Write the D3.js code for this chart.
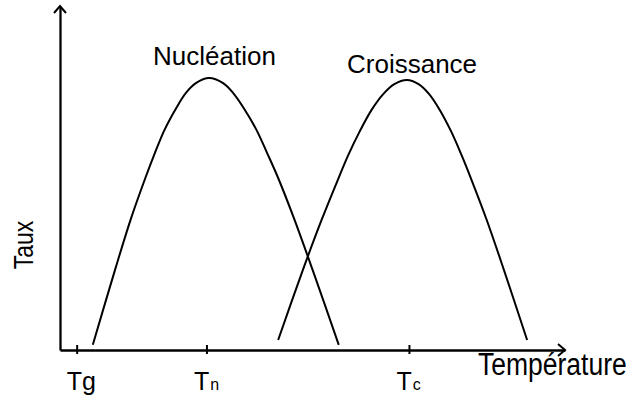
<!DOCTYPE html>
<html>
<head>
<meta charset="utf-8">
<script src="https://cdn.jsdelivr.net/npm/d3@7"></script>
<style>
  body { margin: 0; background: #fff; }
  text { font-family: "Liberation Sans", Arial, sans-serif; fill: #000; }
</style>
</head>
<body>
<div id="chart"></div>
<script>
// data (temperature / rate, arbitrary units)
var nucleationX = [6.5, 11.0, 14.1, 16.9, 18.8, 20.7, 23.0, 24.9, 26.9, 29.5, 32.3, 34.3, 36.4, 38.9, 41.0, 43.2, 46.3, 49.9, 55.2];
var nucleationY = [1.5, 23.8, 38.4, 50.0, 57.3, 64.0, 70.3, 74.7, 77.6, 79.1, 77.6, 74.7, 70.3, 64.0, 57.3, 50.0, 38.4, 23.8, 1.5];
var croissanceX = [43.2, 48.1, 51.8, 55.0, 57.1, 59.3, 61.7, 64.0, 66.2, 68.7, 71.0, 73.1, 75.2, 77.5, 79.5, 81.5, 84.5, 87.9, 92.5];
var croissanceY = [2.9, 23.3, 37.8, 49.4, 56.7, 63.4, 69.8, 74.4, 77.3, 78.5, 77.3, 74.4, 69.8, 63.4, 56.7, 49.4, 37.8, 23.3, 2.9];
var tickValues = [3.3, 29.0, 69.1];
var tickMain = ["Tg", "T", "T"];
var tickSub = ["", "n", "c"];

var width = 633, height = 398;
var svg = d3.select("#chart")
  .append("svg")
    .attr("width", width)
    .attr("height", height);

var xScale = d3.scaleLinear().domain([0, 100]).range([60, 565]);
var yScale = d3.scaleLinear().domain([0, 100]).range([350, 6]);

// axes
var xAxis = svg.append("g")
    .attr("transform", "translate(0," + yScale(0) + ")")
    .call(d3.axisBottom(xScale)
      .tickValues(tickValues)
      .tickSize(4)
      .tickSizeOuter(0)
      .tickFormat(""));
xAxis.select(".domain").attr("stroke-width", 2.3);
xAxis.selectAll(".tick line").attr("y1", -5).attr("stroke-width", 2);

var yAxis = svg.append("g")
    .attr("transform", "translate(" + xScale(0) + ",0)")
    .call(d3.axisLeft(yScale).tickValues([]).tickSizeOuter(0));
yAxis.select(".domain").attr("stroke-width", 2.3);

// arrow heads
var ax = xScale(100), ay = yScale(0);
svg.append("path")
  .attr("d", "M" + (ax - 7) + "," + (ay - 6) + "L" + ax + "," + ay + "L" + (ax - 7) + "," + (ay + 6))
  .attr("fill", "none").attr("stroke", "#000").attr("stroke-width", 2);
var bx = xScale(0), by = yScale(100);
svg.append("path")
  .attr("d", "M" + (bx - 6) + "," + (by + 7) + "L" + bx + "," + by + "L" + (bx + 6) + "," + (by + 7))
  .attr("fill", "none").attr("stroke", "#000").attr("stroke-width", 2);

// curves
var line = d3.line()
  .x(function(d) { return xScale(d[0]); })
  .y(function(d) { return yScale(d[1]); })
  .curve(d3.curveCatmullRom.alpha(0.5));

var series = [
  d3.zip(nucleationX, nucleationY),
  d3.zip(croissanceX, croissanceY)
];
svg.selectAll(".curve")
  .data(series)
  .enter()
  .append("path")
    .attr("class", "curve")
    .attr("d", line)
    .attr("fill", "none")
    .attr("stroke", "#000")
    .attr("stroke-width", 2);

// tick labels
var labels = svg.selectAll(".tlab")
  .data(tickValues)
  .enter()
  .append("text")
    .attr("class", "tlab")
    .attr("x", function(d, i) { return xScale(d) - (tickSub[i] ? 12.5 : 10); })
    .attr("y", 390)
    .style("font-size", "25px");
labels.append("tspan").text(function(d, i) { return tickMain[i]; });
labels.append("tspan")
  .style("font-size", "16px")
  .attr("dx", 1)
  .text(function(d, i) { return tickSub[i]; });

// titles
svg.append("text")
  .attr("x", 153).attr("y", 65)
  .style("font-size", "26px")
  .text("Nucléation");
svg.append("text")
  .attr("x", 347).attr("y", 73)
  .style("font-size", "26px")
  .text("Croissance");
svg.append("text")
  .attr("transform", "translate(478,375) scale(1,1.2)")
  .style("font-size", "26.5px")
  .text("Température");
svg.append("text")
  .attr("transform", "translate(33,245) rotate(-90) scale(1,1.2)")
  .attr("text-anchor", "middle")
  .style("font-size", "23px")
  .text("Taux");
</script>
</body>
</html>
